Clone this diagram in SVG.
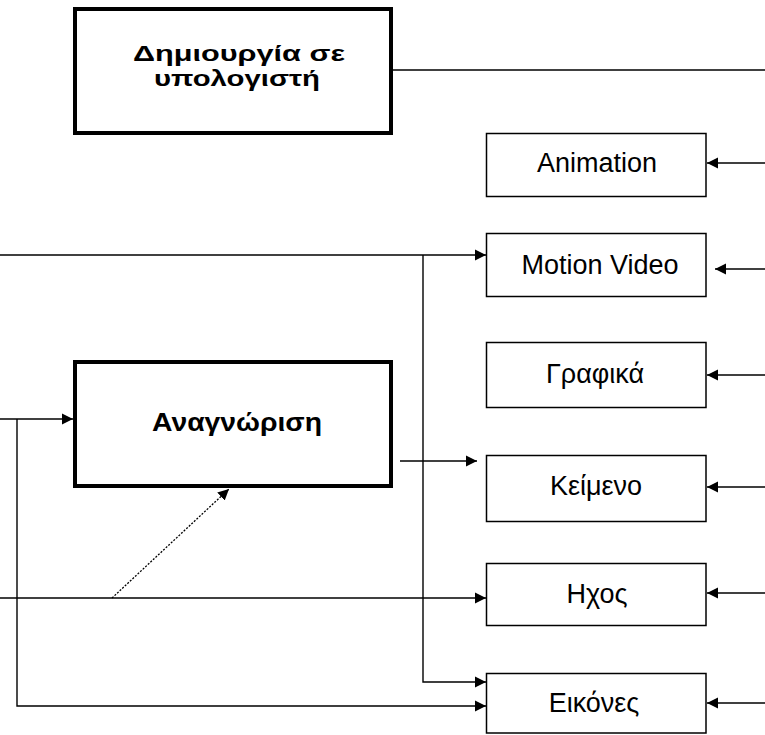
<svg xmlns="http://www.w3.org/2000/svg" width="765" height="735" viewBox="0 0 765 735">
<style>
.big{fill:#fff;stroke:#000;stroke-width:4}
.box{fill:#fff;stroke:#000;stroke-width:1.5}
.c{fill:none;stroke:#000;stroke-width:1.4}
.d{fill:none;stroke:#000;stroke-width:1.3;stroke-dasharray:2 1.5}
.bt{font-family:"Liberation Sans",Arial,sans-serif;font-weight:bold;font-size:25px;text-anchor:middle;fill:#000}
.bs{font-size:22px}
.t{font-family:"Liberation Sans",Arial,sans-serif;font-size:27px;text-anchor:middle;fill:#000}
</style>
<defs>
<marker id="ah" markerUnits="userSpaceOnUse" markerWidth="12" markerHeight="12" refX="11" refY="6" orient="auto">
<path d="M0,0.5 L11,6 L0,11.5 z" fill="#000"/>
</marker>
</defs>
<rect width="765" height="735" fill="#fff"/>
<g id="connectors">
<path class="c" d="M393,70 H765"/>
<path class="c" d="M765,163 H707" marker-end="url(#ah)"/>
<path class="c" d="M765,269 H715" marker-end="url(#ah)"/>
<path class="c" d="M765,375 H707" marker-end="url(#ah)"/>
<path class="c" d="M765,487 H707" marker-end="url(#ah)"/>
<path class="c" d="M765,593 H707" marker-end="url(#ah)"/>
<path class="c" d="M765,703 H707" marker-end="url(#ah)"/>
<path class="c" d="M0,255 H486" marker-end="url(#ah)"/>
<path class="c" d="M423,255 V682 H486" marker-end="url(#ah)"/>
<path class="c" d="M0,419 H73" marker-end="url(#ah)"/>
<path class="c" d="M17,419 V706 H486" marker-end="url(#ah)"/>
<path class="c" d="M400,461 H477" marker-end="url(#ah)"/>
<path class="c" d="M0,598 H486" marker-end="url(#ah)"/>
<path class="d" d="M112,598 L229,489" marker-end="url(#ah)"/>
</g>
<g id="n-dimiourgia">
<rect class="big" x="75" y="9" width="316" height="124"/>
<text class="bt bs" x="239" y="61" textLength="212" lengthAdjust="spacingAndGlyphs">Δημιουργία σε</text>
<text class="bt bs" x="237" y="86" textLength="166" lengthAdjust="spacingAndGlyphs">υπολογιστή</text>
</g>
<g id="n-anagnorisi">
<rect class="big" x="75" y="362" width="316" height="124"/>
<text class="bt" x="237" y="431" textLength="170" lengthAdjust="spacingAndGlyphs">Αναγνώριση</text>
</g>
<g id="n-animation">
<rect class="box" x="486.5" y="133.5" width="219.5" height="63"/>
<text class="t" x="597" y="172">Animation</text>
</g>
<g id="n-motionvideo">
<rect class="box" x="486.5" y="233.5" width="219.5" height="63"/>
<text class="t" x="600" y="274">Motion Video</text>
</g>
<g id="n-grafika">
<rect class="box" x="486.5" y="342.5" width="219.5" height="65"/>
<text class="t" x="595" y="383">Γραφικά</text>
</g>
<g id="n-keimeno">
<rect class="box" x="486.5" y="455.5" width="219.5" height="66"/>
<text class="t" x="596" y="495">Κείμενο</text>
</g>
<g id="n-ichos">
<rect class="box" x="486.5" y="563.5" width="219.5" height="62"/>
<text class="t" x="597" y="603">Ηχος</text>
</g>
<g id="n-eikones">
<rect class="box" x="486.5" y="673.5" width="219.5" height="59.5"/>
<text class="t" x="594" y="712">Εικόνες</text>
</g>
</svg>
